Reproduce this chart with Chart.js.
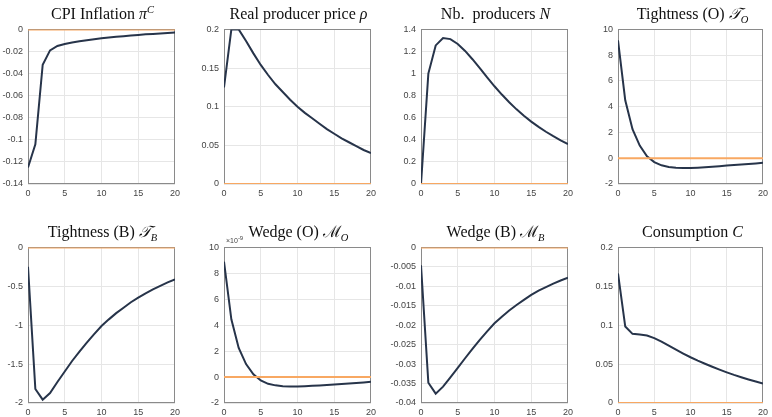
<!DOCTYPE html>
<html>
<head>
<meta charset="utf-8">
<script src="https://cdn.jsdelivr.net/npm/chart.js@4.4.1/dist/chart.umd.min.js"></script>
<style>
body{margin:0;background:#fff;overflow:hidden;width:772px;height:417px;position:relative;}
.panel{position:absolute;}
.ttl{position:absolute;width:149px;text-align:center;font-family:"Liberation Serif",serif;font-size:16px;line-height:16px;color:#111;white-space:nowrap;}
.ttl sup,.ttl sub{font-size:10.5px;line-height:0;font-style:italic;}
.expo{position:absolute;font-family:"Liberation Sans",Arial,sans-serif;font-size:7px;color:#444;white-space:nowrap;}
.expo sup{font-size:6px;line-height:0;}
</style>
</head>
<body>
<div id="charts"></div>
<script>
"use strict";

// horizon (quarters) and tick marks
const periods = [0,1,2,3,4,5,6,7,8,9,10,11,12,13,14,15,16,17,18,19,20];
const xTicks = [0,5,10,15,20];
const steadyState = 0;

// impulse responses
const cpiInflation = [-0.1250,-0.1040,-0.0320,-0.0190,-0.0150,-0.0132,-0.0119,-0.0108,-0.0098,-0.0089,-0.0081,-0.0074,-0.0067,-0.0061,-0.0055,-0.0050,-0.0045,-0.0041,-0.0037,-0.0033,-0.0029];
const realProducerPrice = [0.125,0.200,0.200,0.185,0.169,0.154,0.141,0.129,0.119,0.109,0.100,0.092,0.085,0.078,0.071,0.065,0.059,0.054,0.049,0.044,0.040];
const nbProducers = [0,1.000,1.255,1.322,1.312,1.268,1.205,1.130,1.050,0.965,0.885,0.810,0.740,0.676,0.618,0.565,0.517,0.473,0.433,0.396,0.362];
const tightnessO = [9.15,4.50,2.25,0.98,0.15,-0.30,-0.55,-0.68,-0.74,-0.765,-0.76,-0.735,-0.70,-0.66,-0.615,-0.57,-0.525,-0.48,-0.44,-0.40,-0.36];
const tightnessB = [-0.25,-1.82,-1.957,-1.873,-1.73,-1.595,-1.46,-1.34,-1.225,-1.115,-1.01,-0.925,-0.845,-0.775,-0.705,-0.645,-0.59,-0.54,-0.495,-0.45,-0.41];
const wedgeO = [8.90,4.45,2.25,1.00,0.22,-0.26,-0.52,-0.64,-0.70,-0.72,-0.72,-0.70,-0.675,-0.645,-0.61,-0.57,-0.53,-0.49,-0.45,-0.41,-0.37]; // x 1e-9
const wedgeB = [-0.0046,-0.0348,-0.0376,-0.0358,-0.0334,-0.0310,-0.0285,-0.0261,-0.0238,-0.0216,-0.0195,-0.0178,-0.0162,-0.0148,-0.0135,-0.0122,-0.0111,-0.0102,-0.0093,-0.0085,-0.0078];
const consumption = [0.1665,0.0983,0.0889,0.0880,0.0868,0.0834,0.0790,0.0738,0.0686,0.0636,0.0588,0.0545,0.0505,0.0466,0.0429,0.0394,0.0361,0.0331,0.0303,0.0277,0.0250];

// y tick values per panel
const cpiTicks = [-0.14,-0.12,-0.1,-0.08,-0.06,-0.04,-0.02,0];
const priceTicks = [0,0.05,0.1,0.15,0.2];
const producerTicks = [0,0.2,0.4,0.6,0.8,1,1.2,1.4];
const tightOTicks = [-2,0,2,4,6,8,10];
const tightBTicks = [-2,-1.5,-1,-0.5,0];
const wedgeOTicks = [-2,0,2,4,6,8,10];
const wedgeBTicks = [-0.04,-0.035,-0.03,-0.025,-0.02,-0.015,-0.01,-0.005,0];
const consTicks = [0,0.05,0.1,0.15,0.2];

const NAVY = "#27344a";
const ORANGE = "#f8a862";
const GRID = "#e6e6e6";
const AXIS = "#8a8a8a";
const TICK = "#444";
const YW = 40, XH = 20, PADT = 8, PW = 149;

let panels = [
	{title: 'CPI Inflation <i>π</i><sup>C</sup>', values: cpiInflation, ticks: cpiTicks, left: 28, top: 27, h: 157, padR: 7},
	{title: 'Real producer price <i>ρ</i>', values: realProducerPrice, ticks: priceTicks, left: 224, top: 27, h: 157, padR: 7},
	{title: 'Nb.&nbsp; producers <i>N</i>', values: nbProducers, ticks: producerTicks, left: 421, top: 27, h: 157, padR: 7},
	{title: 'Tightness (O) <i>𝒯</i><sub>O</sub>', values: tightnessO, ticks: tightOTicks, left: 618, top: 27, h: 157, padR: 5},
	{title: 'Tightness (B) <i>𝒯</i><sub>B</sub>', values: tightnessB, ticks: tightBTicks, left: 28, top: 245, h: 158, padR: 7},
	{title: 'Wedge (O) ℳ<sub>O</sub>', values: wedgeO, ticks: wedgeOTicks, left: 224, top: 245, h: 158, padR: 7},
	{title: 'Wedge (B) ℳ<sub>B</sub>', values: wedgeB, ticks: wedgeBTicks, left: 421, top: 245, h: 158, padR: 7},
	{title: 'Consumption <i>C</i>', values: consumption, ticks: consTicks, left: 618, top: 245, h: 158, padR: 5}
];

function fmt(v) { return String(parseFloat(Number(v).toFixed(6))); }

// box around the axes, drawn under the lines
const frame = {
	id: "frame",
	beforeDatasetsDraw(chart) {
		let a = chart.chartArea, ctx = chart.ctx;
		ctx.save();
		ctx.strokeStyle = AXIS;
		ctx.lineWidth = 1;
		ctx.strokeRect(Math.round(a.left) + 0.5, Math.round(a.top) + 0.5, Math.round(a.right - a.left) - 1, Math.round(a.bottom - a.top) - 1);
		ctx.restore();
	}
};

let holder = document.getElementById("charts");

panels.forEach(function (p) {
	let W = YW + PW + p.padR, H = PADT + p.h + XH;
	let div = document.createElement("div");
	div.className = "panel";
	div.style.left = (p.left - YW) + "px";
	div.style.top = (p.top - PADT) + "px";
	let cv = document.createElement("canvas");
	cv.width = W; cv.height = H;
	cv.style.width = W + "px"; cv.style.height = H + "px";
	div.appendChild(cv);
	holder.appendChild(div);

	let t = document.createElement("div");
	t.className = "ttl";
	t.innerHTML = p.title;
	t.style.left = p.left + "px";
	t.style.top = (p.top - 21) + "px";
	holder.appendChild(t);

	let tickFont = {family: "'Liberation Sans', Arial, sans-serif", size: 9};

	new Chart(cv, {
		type: "line",
		data: {
			datasets: [
				{
					data: [{x: periods[0], y: steadyState}, {x: periods[periods.length - 1], y: steadyState}],
					borderColor: ORANGE, borderWidth: 2, pointRadius: 0
				},
				{
					data: periods.map((x, i) => ({x: x, y: p.values[i]})),
					borderColor: NAVY, borderWidth: 2, pointRadius: 0, tension: 0
				}
			]
		},
		options: {
			responsive: false,
			animation: false,
			devicePixelRatio: 1,
			layout: {padding: {top: PADT, right: p.padR, left: 0, bottom: 0}},
			plugins: {legend: {display: false}, tooltip: {enabled: false}, title: {display: false}},
			scales: {
				x: {
					type: "linear", min: xTicks[0], max: xTicks[xTicks.length - 1],
					afterBuildTicks: s => { s.ticks = xTicks.map(v => ({value: v})); },
					afterFit: s => { s.height = XH; },
					grid: {color: GRID, drawTicks: false},
					border: {display: false},
					ticks: {padding: 4, color: TICK, font: tickFont, maxRotation: 0, autoSkip: false, callback: fmt}
				},
				y: {
					type: "linear", min: p.ticks[0], max: p.ticks[p.ticks.length - 1],
					afterBuildTicks: s => { s.ticks = p.ticks.map(v => ({value: v})); },
					afterFit: s => { s.width = YW; },
					grid: {color: GRID, drawTicks: false},
					border: {display: false},
					ticks: {padding: 5, color: TICK, font: tickFont, autoSkip: false, callback: fmt}
				}
			}
		},
		plugins: [frame]
	});
});

// exponent label of the Wedge (O) axis
let ex = document.createElement("div");
ex.className = "expo";
ex.innerHTML = "×10<sup>-9</sup>";
ex.style.left = "226px";
ex.style.top = "237px";
holder.appendChild(ex);
</script>
</body>
</html>
